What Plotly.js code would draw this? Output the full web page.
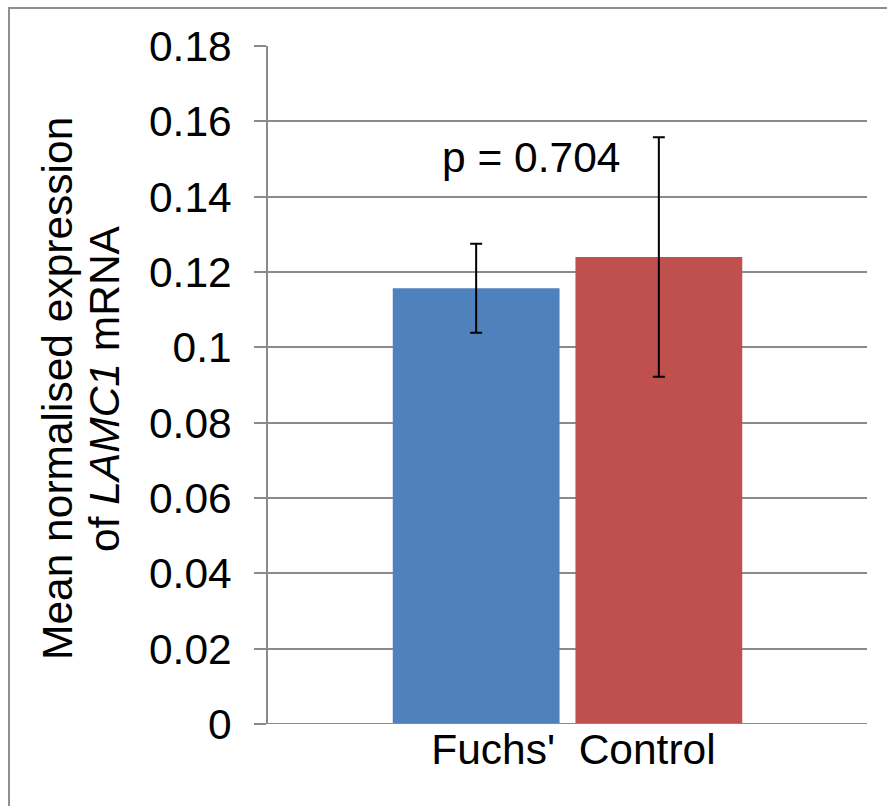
<!DOCTYPE html>
<html>
<head>
<meta charset="utf-8">
<script src="https://cdn.plot.ly/plotly-3.0.1.min.js"></script>
<style>
  html, body { margin: 0; padding: 0; background: #ffffff; overflow: hidden; }
  #wrap { position: relative; width: 887px; height: 806px; }
  #chart { position: absolute; left: 0; top: 0; width: 887px; height: 806px; }
  #frame {
    position: absolute; left: 8px; top: 7px; width: 920px; height: 840px;
    border: 2px solid #8f8f8f; pointer-events: none; box-sizing: border-box;
  }
</style>
</head>
<body>
<div id="wrap">
  <div id="chart"></div>
  <div id="frame"></div>
</div>
<script>
// Groups compared and their mean normalised LAMC1 expression with error (±)
const groups = ["Fuchs'", "Control"];
const means = [0.1157, 0.124];
const errors = [0.0118, 0.0318];
const colors = ["#4F81BD", "#C0504D"];
const pValueText = "p = 0.704";
const yTitleLines = ["Mean normalised expression", "of <i>LAMC1</i> mRNA"];
const yTicks = [0, 0.02, 0.04, 0.06, 0.08, 0.1, 0.12, 0.14, 0.16, 0.18];
const yTickText = ["0", "0.02", "0.04", "0.06", "0.08", "0.1", "0.12", "0.14", "0.16", "0.18"];

// Both bars share one category whose label names the two groups
const categoryLabel = "\u00a0" + groups.join("\u00a0\u00a0");

const FONT = "Liberation Sans, Arial, sans-serif";
const FS = 42.5;

const traces = groups.map((g, i) => ({
  type: "bar",
  name: g,
  x: [categoryLabel],
  y: [means[i]],
  marker: { color: colors[i], line: { width: 0 } },
  error_y: {
    type: "data",
    array: [errors[i]],
    visible: true,
    color: "#000000",
    thickness: 2,
    width: 6
  },
  hoverinfo: "skip"
}));

// Two-line vertical axis title, each line placed separately for tighter spacing
const titleShifts = [-211, -164];
const titleAnnotations = yTitleLines.map((line, i) => ({
  text: line,
  xref: "paper", yref: "paper",
  x: 0, y: 0.5,
  xshift: titleShifts[i], yshift: -4,
  xanchor: "center", yanchor: "middle",
  textangle: -90,
  showarrow: false,
  font: { family: FONT, size: FS, color: "#000000" }
}));

const layout = {
  width: 887,
  height: 806,
  margin: { l: 268, r: 20, t: 46, b: 82 },
  paper_bgcolor: "#ffffff",
  plot_bgcolor: "#ffffff",
  showlegend: false,
  barmode: "group",
  bargap: 0.39,
  bargroupgap: 0.087,
  font: { family: FONT, size: FS, color: "#000000" },
  xaxis: {
    type: "category",
    showgrid: false,
    showline: false,
    zeroline: false,
    ticks: "",
    ticklabelstandoff: -4,
    tickfont: { family: FONT, size: FS, color: "#000000" },
    automargin: false,
    fixedrange: true
  },
  yaxis: {
    range: [0, 0.18],
    tickmode: "array",
    tickvals: yTicks,
    ticktext: yTickText,
    showgrid: true,
    gridcolor: "#8a8a8a",
    gridwidth: 1.8,
    zeroline: false,
    showline: true,
    linecolor: "#8a8a8a",
    linewidth: 1.8,
    ticks: "outside",
    ticklen: 12,
    tickwidth: 1.8,
    tickcolor: "#8a8a8a",
    ticklabelstandoff: 14,
    tickfont: { family: FONT, size: FS, color: "#000000" },
    automargin: false,
    fixedrange: true
  },
  shapes: [
    {
      type: "line", xref: "paper", yref: "y",
      x0: -0.02, x1: 1, y0: 0, y1: 0,
      line: { color: "#8a8a8a", width: 1.8 }
    }
  ],
  annotations: [
    {
      text: pValueText,
      xref: "paper", yref: "y",
      x: 0.439, y: 0.1505,
      xanchor: "center", yanchor: "middle",
      showarrow: false,
      font: { family: FONT, size: FS, color: "#000000" }
    }
  ].concat(titleAnnotations)
};

Plotly.newPlot("chart", traces, layout, { staticPlot: true, displayModeBar: false });
</script>
</body>
</html>
